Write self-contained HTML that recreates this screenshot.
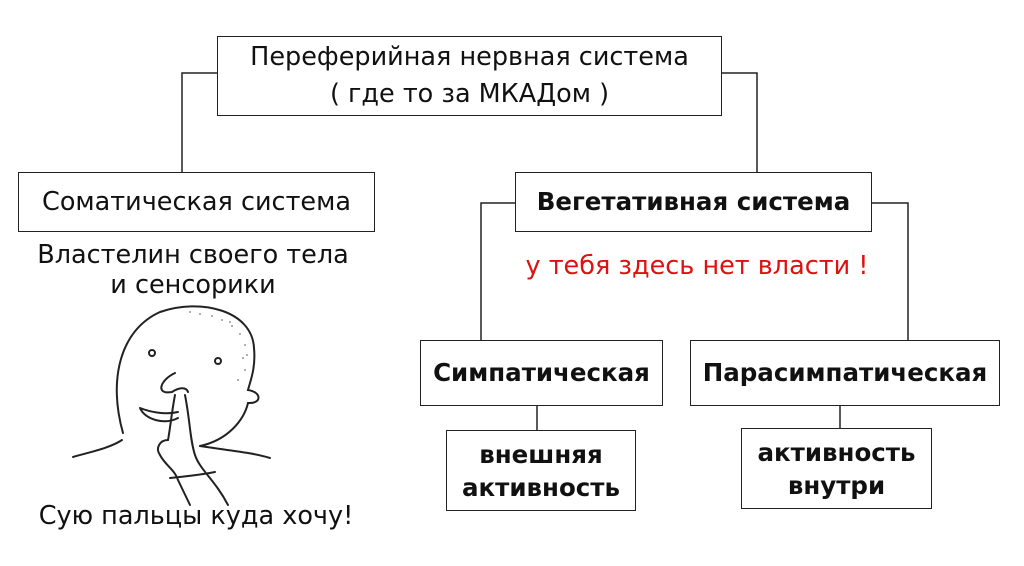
<!DOCTYPE html>
<html><head><meta charset="utf-8"><style>
body{margin:0;background:#fff;}
#c{position:relative;width:1024px;height:566px;overflow:hidden;font-family:"DejaVu Sans","Liberation Sans",sans-serif;color:#111;}
.b{position:absolute;border:1.5px solid #222;box-sizing:border-box;display:flex;align-items:center;justify-content:center;text-align:center;font-size:25.5px;line-height:36px;}
.t{position:absolute;text-align:center;font-size:25.5px;line-height:30px;}
.bold{font-weight:bold;font-size:24.5px;}
</style></head><body><div id="c">
<svg width="1024" height="566" style="position:absolute;left:0;top:0" fill="none" stroke="#222" stroke-width="1.5">
<polyline points="217,73 182,73 182,172"/>
<polyline points="722,73 757,73 757,172"/>
<polyline points="515,203 481,203 481,340"/>
<polyline points="872,203 908,203 908,340"/>
<line x1="537" y1="406" x2="537" y2="430"/>
<line x1="840" y1="406" x2="840" y2="428"/>
<g stroke-width="2" stroke-linecap="round">
<path d="M123,433 C108,380 120,330 160,312 C200,298 252,310 254,348 C256,368 250,382 248,390 C262,392 262,404 248,403 C244,420 228,440 200,446"/>
<path d="M73,457 C90,452 110,448 122,440"/>
<path d="M200,446 C225,450 250,452 270,458"/>
<circle cx="152" cy="353" r="3"/><circle cx="218" cy="361" r="3"/>
<path d="M175,373 C160,380 155,395 172,392 C178,388 186,386 188,392"/>
<path d="M140,408 C150,412 165,415 178,412 M140,408 C145,420 165,425 178,418"/>
<path d="M175,395 C172,410 170,430 168,440 C160,440 155,448 160,455 C165,465 175,470 178,480 L190,505"/>
<path d="M185,395 C190,420 190,440 195,455 C200,470 215,480 228,505"/>
<path d="M170,478 C190,476 205,474 215,472"/>
</g>
<g fill="#999" stroke="none">
<circle cx="190" cy="312" r="1"/><circle cx="200" cy="314" r="1"/><circle cx="212" cy="316" r="1"/><circle cx="222" cy="320" r="1"/><circle cx="232" cy="326" r="1"/><circle cx="240" cy="334" r="1"/><circle cx="245" cy="345" r="1"/><circle cx="243" cy="358" r="1"/><circle cx="245" cy="370" r="1"/><circle cx="238" cy="380" r="1"/><circle cx="230" cy="322" r="1"/><circle cx="247" cy="355" r="1"/>
</g>
</svg>
<div class="b" style="left:217px;top:36px;width:505px;height:80px;flex-direction:column;line-height:37px">Переферийная нервная система<br>( где то за МКАДом )</div>
<div class="b" style="left:18px;top:172px;width:357px;height:60px">Соматическая система</div>
<div class="b bold" style="left:515px;top:172px;width:357px;height:60px">Вегетативная система</div>
<div class="t" style="left:0;width:386px;top:240px">Властелин своего тела<br>и сенсорики</div>
<div class="t" style="left:497px;width:400px;top:251px;color:#e01010;">у тебя здесь нет власти !</div>
<div class="b bold" style="left:420px;top:340px;width:243px;height:66px">Симпатическая</div>
<div class="b bold" style="left:690px;top:340px;width:310px;height:66px">Парасимпатическая</div>
<div class="b bold" style="left:446px;top:430px;width:190px;height:81px;line-height:33px">внешняя<br>активность</div>
<div class="b bold" style="left:741px;top:428px;width:191px;height:81px;line-height:33px">активность<br>внутри</div>
<div class="t" style="left:0;width:392px;top:501px">Сую пальцы куда хочу!</div>
</div></body></html>
